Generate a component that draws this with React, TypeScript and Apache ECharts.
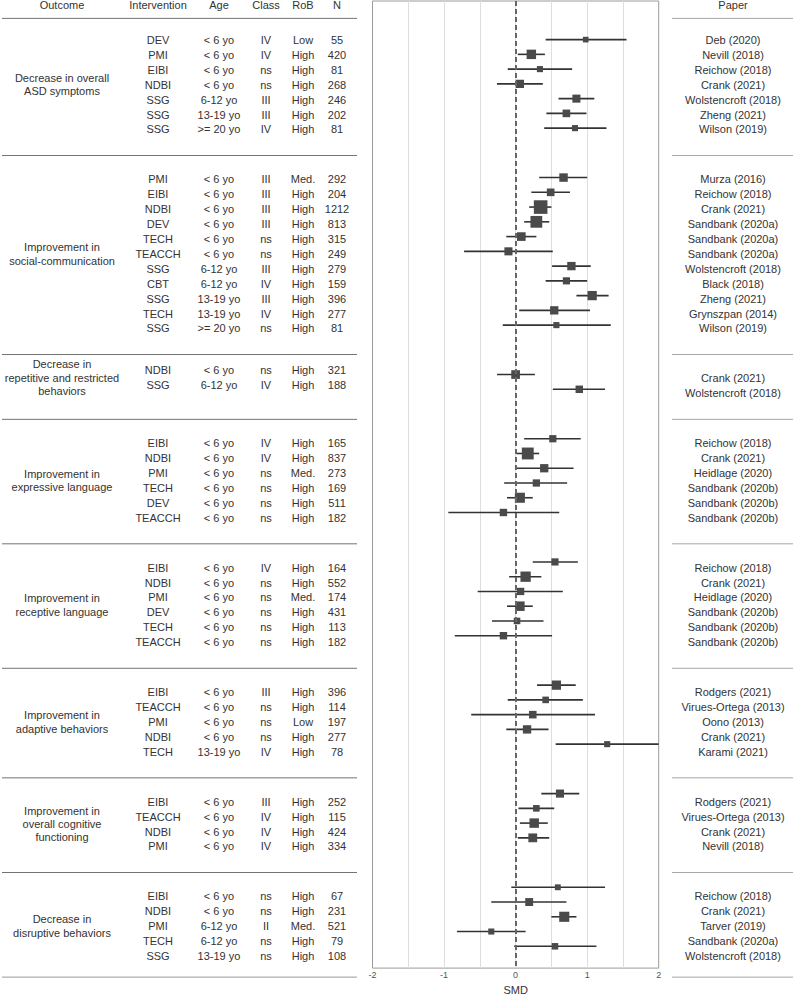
import React, { useEffect, useRef } from "react";
import * as echarts from "echarts";

// ---------------- DATA ----------------
const outcomeLabels = [
  "Decrease in overall\nASD symptoms",
  "Improvement in\nsocial-communication",
  "Decrease in\nrepetitive and restricted\nbehaviors",
  "Improvement in\nexpressive language",
  "Improvement in\nreceptive language",
  "Improvement in\nadaptive behaviors",
  "Improvement in\noverall cognitive\nfunctioning",
  "Decrease in\ndisruptive behaviors",
];
const columnHeaders = ["Outcome", "Intervention", "Age", "Class", "RoB", "N"];
const paperHeader = "Paper";
const xTickLabels = [-2, -1, 0, 1, 2];
const xAxisName = "SMD";

const rowGroup = [
  0, 0, 0, 0, 0, 0, 0,
  1, 1, 1, 1, 1, 1, 1, 1, 1, 1, 1,
  2, 2,
  3, 3, 3, 3, 3, 3,
  4, 4, 4, 4, 4, 4,
  5, 5, 5, 5, 5,
  6, 6, 6, 6,
  7, 7, 7, 7, 7,
];
const intervention = [
  "DEV", "PMI", "EIBI", "NDBI", "SSG", "SSG", "SSG",
  "PMI", "EIBI", "NDBI", "DEV", "TECH", "TEACCH", "SSG", "CBT", "SSG", "TECH", "SSG",
  "NDBI", "SSG",
  "EIBI", "NDBI", "PMI", "TECH", "DEV", "TEACCH",
  "EIBI", "NDBI", "PMI", "DEV", "TECH", "TEACCH",
  "EIBI", "TEACCH", "PMI", "NDBI", "TECH",
  "EIBI", "TEACCH", "NDBI", "PMI",
  "EIBI", "NDBI", "PMI", "TECH", "SSG",
];
const age = [
  "< 6 yo", "< 6 yo", "< 6 yo", "< 6 yo", "6-12 yo", "13-19 yo", ">= 20 yo",
  "< 6 yo", "< 6 yo", "< 6 yo", "< 6 yo", "< 6 yo", "< 6 yo", "6-12 yo", "6-12 yo", "13-19 yo", "13-19 yo", ">= 20 yo",
  "< 6 yo", "6-12 yo",
  "< 6 yo", "< 6 yo", "< 6 yo", "< 6 yo", "< 6 yo", "< 6 yo",
  "< 6 yo", "< 6 yo", "< 6 yo", "< 6 yo", "< 6 yo", "< 6 yo",
  "< 6 yo", "< 6 yo", "< 6 yo", "< 6 yo", "13-19 yo",
  "< 6 yo", "< 6 yo", "< 6 yo", "< 6 yo",
  "< 6 yo", "< 6 yo", "6-12 yo", "6-12 yo", "13-19 yo",
];
const evidenceClass = [
  "IV", "IV", "ns", "ns", "III", "III", "IV",
  "III", "III", "III", "III", "ns", "ns", "III", "IV", "III", "IV", "ns",
  "ns", "IV",
  "IV", "IV", "ns", "ns", "ns", "ns",
  "IV", "ns", "ns", "ns", "ns", "ns",
  "III", "ns", "ns", "ns", "IV",
  "III", "IV", "IV", "IV",
  "ns", "ns", "II", "ns", "ns",
];
const rob = [
  "Low", "High", "High", "High", "High", "High", "High",
  "Med.", "High", "High", "High", "High", "High", "High", "High", "High", "High", "High",
  "High", "High",
  "High", "High", "Med.", "High", "High", "High",
  "High", "High", "Med.", "High", "High", "High",
  "High", "High", "Low", "High", "High",
  "High", "High", "High", "High",
  "High", "High", "Med.", "High", "High",
];
const sampleN = [
  55, 420, 81, 268, 246, 202, 81,
  292, 204, 1212, 813, 315, 249, 279, 159, 396, 277, 81,
  321, 188,
  165, 837, 273, 169, 511, 182,
  164, 552, 174, 431, 113, 182,
  396, 114, 197, 277, 78,
  252, 115, 424, 334,
  67, 231, 521, 79, 108,
];
const paper = [
  "Deb (2020)", "Nevill (2018)", "Reichow (2018)", "Crank (2021)", "Wolstencroft (2018)", "Zheng (2021)", "Wilson (2019)",
  "Murza (2016)", "Reichow (2018)", "Crank (2021)", "Sandbank (2020a)", "Sandbank (2020a)", "Sandbank (2020a)",
  "Wolstencroft (2018)", "Black (2018)", "Zheng (2021)", "Grynszpan (2014)", "Wilson (2019)",
  "Crank (2021)", "Wolstencroft (2018)",
  "Reichow (2018)", "Crank (2021)", "Heidlage (2020)", "Sandbank (2020b)", "Sandbank (2020b)", "Sandbank (2020b)",
  "Reichow (2018)", "Crank (2021)", "Heidlage (2020)", "Sandbank (2020b)", "Sandbank (2020b)", "Sandbank (2020b)",
  "Rodgers (2021)", "Virues-Ortega (2013)", "Oono (2013)", "Crank (2021)", "Karami (2021)",
  "Rodgers (2021)", "Virues-Ortega (2013)", "Crank (2021)", "Nevill (2018)",
  "Reichow (2018)", "Crank (2021)", "Tarver (2019)", "Sandbank (2020a)", "Wolstencroft (2018)",
];
const smd = [
  0.98, 0.22, 0.34, 0.06, 0.85, 0.71, 0.83,
  0.67, 0.49, 0.35, 0.29, 0.08, -0.10, 0.78, 0.71, 1.07, 0.54, 0.57,
  0.00, 0.89,
  0.52, 0.17, 0.40, 0.29, 0.06, -0.17,
  0.55, 0.14, 0.07, 0.06, 0.02, -0.17,
  0.57, 0.42, 0.24, 0.16, 1.28,
  0.62, 0.29, 0.26, 0.24,
  0.59, 0.19, 0.68, -0.34, 0.55,
];
const ciLower = [
  0.42, 0.03, -0.11, -0.26, 0.60, 0.43, 0.40,
  0.33, 0.22, 0.19, 0.12, -0.13, -0.72, 0.51, 0.42, 0.85, 0.05, -0.18,
  -0.26, 0.52,
  0.12, 0.01, 0.01, -0.16, -0.12, -0.94,
  0.24, -0.09, -0.53, -0.12, -0.33, -0.85,
  0.30, -0.11, -0.62, -0.13, 0.56,
  0.36, 0.04, 0.06, 0.03,
  -0.06, -0.34, 0.50, -0.82, -0.02,
];
const ciUpper = [
  1.55, 0.41, 0.79, 0.38, 1.10, 0.99, 1.27,
  1.00, 0.76, 0.50, 0.47, 0.29, 0.52, 1.05, 1.00, 1.30, 1.04, 1.33,
  0.27, 1.25,
  0.91, 0.33, 0.81, 0.72, 0.24, 0.61,
  0.87, 0.36, 0.66, 0.24, 0.39, 0.51,
  0.84, 0.94, 1.11, 0.46, 2.10,
  0.89, 0.54, 0.45, 0.47,
  1.25, 0.71, 0.85, 0.14, 1.13,
];

// ---------------- LAYOUT ----------------
const W = 795;
const H = 1000;
const ROW_PX = 14.906;
const FIRST_ROW_PX = 40;
const GROUP_GAP = 2.35; // in row slots
const GRID_TOP = 1;
const GRID_BOTTOM_PX = 978;
const GRID_H = GRID_BOTTOM_PX - GRID_TOP;
const Y_MIN = (GRID_TOP - FIRST_ROW_PX) / ROW_PX;
const Y_MAX = (GRID_BOTTOM_PX - FIRST_ROW_PX) / ROW_PX;
const HEADER_SLOT = (5 - FIRST_ROW_PX) / ROW_PX;
const HEADER_SEP_OFFSET = -1.45;
const SEP_OFFSET = 1.75;
const BOTTOM_SEP_OFFSET = 1.42;
const LEFT_GROUP_SHIFT = [0, 0, -0.55, 0, 0, 0, 0, 0];
const LEFT_COL_X = [62, 158, 219, 266, 303, 337];
const LEFT_LINE = [2, 357];
const RIGHT_GRID_LEFT = 660;
const RIGHT_COL_X = 73;
const RIGHT_LINE = [12, 133];
const PLOT_LEFT = 372.5;
const PLOT_W = 286.2;
const FONT = "'Liberation Sans', Arial, Helvetica, sans-serif";
const TEXT_COLOR = "#333333";

const nGroups = outcomeLabels.length;
const slot = rowGroup.map((g, i) => i + g * GROUP_GAP);
const leftSlot = rowGroup.map((g, i) => slot[i] + LEFT_GROUP_SHIFT[g]);
const groupIdx = Array.from({ length: nGroups }, (_, g) =>
  rowGroup.map((gg, i) => (gg === g ? i : -1)).filter((i) => i >= 0)
);
const squareSize = (n: number) => 3.5 + 0.29 * Math.sqrt(n);

type TItem = { x: number; y: number; text: string };

function textSeries(axisIdx: number, items: TItem[]) {
  return {
    type: "custom",
    xAxisIndex: axisIdx,
    yAxisIndex: axisIdx,
    silent: true,
    clip: false,
    z: 5,
    data: items.map((it) => [it.x, it.y]),
    renderItem: (params: any, api: any) => {
      const it = items[params.dataIndex];
      const p = api.coord([it.x, it.y]);
      return {
        type: "text",
        x: p[0],
        y: p[1],
        style: {
          text: it.text,
          align: "center",
          verticalAlign: "middle",
          textAlign: "center",
          textVerticalAlign: "middle",
          fontSize: 11,
          fontFamily: FONT,
          lineHeight: 13.4,
          fill: TEXT_COLOR,
        },
      };
    },
  };
}

function sepSeries(axisIdx: number, x0: number, x1: number, seps: { y: number; color: string }[]) {
  return {
    type: "custom",
    xAxisIndex: axisIdx,
    yAxisIndex: axisIdx,
    silent: true,
    clip: false,
    z: 4,
    data: seps.map((s) => [x0, s.y]),
    renderItem: (params: any, api: any) => {
      const s = seps[params.dataIndex];
      const a = api.coord([x0, s.y]);
      const b = api.coord([x1, s.y]);
      return {
        type: "line",
        shape: { x1: a[0], y1: a[1], x2: b[0], y2: b[1] },
        style: { stroke: s.color, lineWidth: 1 },
      };
    },
  };
}

export default function App() {
  const ref = useRef<HTMLDivElement>(null);

  useEffect(() => {
    document.body.style.margin = "0";
    if (!ref.current) return;
    const chart = echarts.init(ref.current, undefined, { renderer: "svg" });

    // left table texts
    const leftItems: TItem[] = [];
    columnHeaders.forEach((h, c) => leftItems.push({ x: LEFT_COL_X[c], y: HEADER_SLOT, text: h }));
    rowGroup.forEach((_, i) => {
      const y = leftSlot[i];
      leftItems.push({ x: LEFT_COL_X[1], y, text: intervention[i] });
      leftItems.push({ x: LEFT_COL_X[2], y, text: age[i] });
      leftItems.push({ x: LEFT_COL_X[3], y, text: evidenceClass[i] });
      leftItems.push({ x: LEFT_COL_X[4], y, text: rob[i] });
      leftItems.push({ x: LEFT_COL_X[5], y, text: String(sampleN[i]) });
    });
    groupIdx.forEach((idx, g) => {
      const a = leftSlot[idx[0]];
      const b = leftSlot[idx[idx.length - 1]];
      leftItems.push({ x: LEFT_COL_X[0], y: (a + b) / 2, text: outcomeLabels[g] });
    });

    // right table texts
    const rightItems: TItem[] = [{ x: RIGHT_COL_X, y: HEADER_SLOT, text: paperHeader }];
    rowGroup.forEach((_, i) => rightItems.push({ x: RIGHT_COL_X, y: slot[i], text: paper[i] }));

    // separators
    const sepPositions: number[] = [];
    sepPositions.push(slot[0] + HEADER_SEP_OFFSET);
    groupIdx.forEach((idx, g) => {
      const last = slot[idx[idx.length - 1]];
      if (g < nGroups - 1) sepPositions.push(last + SEP_OFFSET);
      else sepPositions.push(last + BOTTOM_SEP_OFFSET);
    });
    const leftSeps = sepPositions.map((y, k) => ({
      y,
      color: k === sepPositions.length - 1 ? "#9a9a9a" : "#737373",
    }));
    const rightSeps = sepPositions.map((y) => ({ y, color: "#a6a6a6" }));

    const yAxisBase = {
      type: "value",
      min: Y_MIN,
      max: Y_MAX,
      inverse: true,
      show: false,
    };

    const option: any = {
      animation: false,
      backgroundColor: "#ffffff",
      textStyle: { fontFamily: FONT },
      grid: [
        { left: 0, top: GRID_TOP, width: 360, height: GRID_H, show: false },
        {
          left: PLOT_LEFT,
          top: GRID_TOP,
          width: PLOT_W,
          height: GRID_H,
          show: true,
          borderColor: "#9a9a9a",
          borderWidth: 1,
          backgroundColor: "transparent",
        },
        { left: RIGHT_GRID_LEFT, top: GRID_TOP, width: W - RIGHT_GRID_LEFT, height: GRID_H, show: false },
      ],
      xAxis: [
        { gridIndex: 0, type: "value", min: 0, max: 360, show: false },
        {
          gridIndex: 1,
          type: "value",
          min: -2,
          max: 2,
          interval: 0.5,
          axisLine: { show: false },
          axisTick: { show: false },
          splitLine: {
            show: true,
            showMinLine: false,
            showMaxLine: false,
            lineStyle: { color: "#dedede", width: 1 },
          },
          axisLabel: {
            interval: 0,
            showMinLabel: true,
            showMaxLabel: true,
            margin: 2,
            fontSize: 9,
            color: "#555555",
            fontFamily: FONT,
            formatter: (v: number) => (xTickLabels.indexOf(v) >= 0 ? String(v) : ""),
          },
          name: xAxisName,
          nameLocation: "middle",
          nameGap: 12,
          nameTextStyle: { fontSize: 11, color: TEXT_COLOR, fontFamily: FONT },
        },
        { gridIndex: 2, type: "value", min: 0, max: W - RIGHT_GRID_LEFT, show: false },
      ],
      yAxis: [
        { ...yAxisBase, gridIndex: 0 },
        { ...yAxisBase, gridIndex: 1 },
        { ...yAxisBase, gridIndex: 2 },
      ],
      series: [
        {
          type: "scatter",
          xAxisIndex: 1,
          yAxisIndex: 1,
          data: [],
          silent: true,
          z: 1,
          markLine: {
            silent: true,
            symbol: ["none", "none"],
            label: { show: false },
            lineStyle: { color: "#666666", width: 2, type: [5, 3] },
            data: [{ xAxis: 0 }],
          },
        },
        {
          type: "custom",
          xAxisIndex: 1,
          yAxisIndex: 1,
          silent: true,
          z: 2,
          data: rowGroup.map((_, i) => [ciLower[i], ciUpper[i], slot[i]]),
          encode: { x: [0, 1], y: 2 },
          renderItem: (params: any, api: any) => {
            const lo = Math.max(-2, api.value(0));
            const hi = Math.min(2, api.value(1));
            const y = api.value(2);
            const a = api.coord([lo, y]);
            const b = api.coord([hi, y]);
            return {
              type: "line",
              shape: { x1: a[0], y1: a[1], x2: b[0], y2: b[1] },
              style: { stroke: "#333333", lineWidth: 1.6 },
            };
          },
        },
        {
          type: "scatter",
          xAxisIndex: 1,
          yAxisIndex: 1,
          silent: true,
          z: 3,
          symbol: "rect",
          symbolSize: (_v: any, p: any) => squareSize(sampleN[p.dataIndex]),
          itemStyle: { color: "#4a4a4a", opacity: 1 },
          data: rowGroup.map((_, i) => [smd[i], slot[i]]),
        },
        sepSeries(0, LEFT_LINE[0], LEFT_LINE[1], leftSeps),
        textSeries(0, leftItems),
        sepSeries(2, RIGHT_LINE[0], RIGHT_LINE[1], rightSeps),
        textSeries(2, rightItems),
      ],
    };

    chart.setOption(option);
    return () => chart.dispose();
  }, []);

  return <div ref={ref} style={{ width: W, height: H }} />;
}
